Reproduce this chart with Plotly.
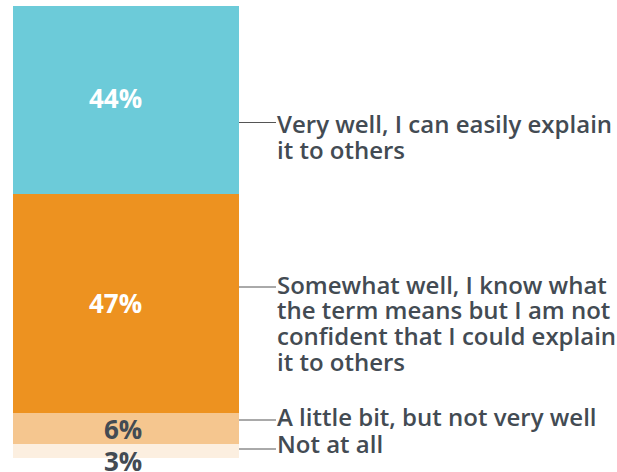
import plotly.graph_objects as go

W, H = 617, 472

# Data (bottom to top)
categories = ["Not at all",
              "A little bit, but not very well",
              "Somewhat well, I know what|the term means but I am not|confident that I could explain|it to others",
              "Very well, I can easily explain|it to others"]
bar_heights = [3.1, 6.9, 48.5, 41.6]          # visual segment heights
pct_labels = ["3%", "6%", "47%", "44%"]
colors = ["#fcefe0", "#f5c68f", "#ed9220", "#6ccbd9"]
pct_colors = ["#434b53", "#434b53", "#ffffff", "#ffffff"]
pct_shift = [-10, -1, 0, 2]

# pixel layout
bar_left, bar_right = 13, 239
bar_top, bar_bottom = 6, 458
label_right = 143
px_per_unit_y = (bar_bottom - bar_top) / sum(bar_heights)
y_lo = -(H - bar_bottom) / px_per_unit_y
y_hi = bar_bottom / px_per_unit_y
px_per_unit_x = bar_right - bar_left
xc = (bar_left + bar_right) / 2
x_lo = -xc / px_per_unit_x
x_hi = (W - xc) / px_per_unit_x

fig = go.Figure()
for cat, h, c in zip(categories, bar_heights, colors):
    fig.add_trace(go.Bar(x=[0], y=[h], width=[1], marker=dict(color=c, line=dict(width=0)),
                         name=cat.replace("|", " "), hoverinfo="skip", showlegend=False))

annotations = []
cum = 0
for h, lab, pc, sh in zip(bar_heights, pct_labels, pct_colors, pct_shift):
    annotations.append(dict(x=label_right / W, y=cum + h / 2, xref="paper", yref="y", text=lab,
                            showarrow=False, xanchor="right", borderpad=0,
                            font=dict(family="Open Sans", size=26, color=pc, weight=700),
                            yshift=sh))
    cum += h

# right-side labels with leader lines (pixel y of leader line, first baseline)
leader_px = [449, 420, 287, 122.5]
baseline_px = [452, 425, 292.5, 132]
line_step = 25.8
shapes = []
for cat, ly, bl in zip(categories, leader_px, baseline_px):
    yp = 1 - ly / H
    shapes.append(dict(type="line", xref="paper", yref="paper", x0=239 / W, x1=276 / W,
                       y0=yp, y1=yp, line=dict(color="#555555", width=1)))
    for i, line in enumerate(cat.split("|")):
        cy = bl + i * line_step - 8.5
        annotations.append(dict(x=276 / W, y=1 - cy / H, xref="paper", yref="paper",
                                xanchor="left", yanchor="middle", align="left", text=line,
                                showarrow=False, borderpad=0,
                                font=dict(family="Open Sans", size=24, color="#434b53", weight=600)))

fig.update_layout(
    width=W, height=H, barmode="stack",
    margin=dict(l=0, r=0, t=0, b=0),
    paper_bgcolor="white", plot_bgcolor="white",
    xaxis=dict(range=[x_lo, x_hi], visible=False, fixedrange=True),
    yaxis=dict(range=[y_lo, y_hi], visible=False, fixedrange=True),
    annotations=annotations, shapes=shapes, bargap=0,
)
fig.write_html("out.html", config={"displayModeBar": False},
               post_script="document.body.style.margin='0px';")
